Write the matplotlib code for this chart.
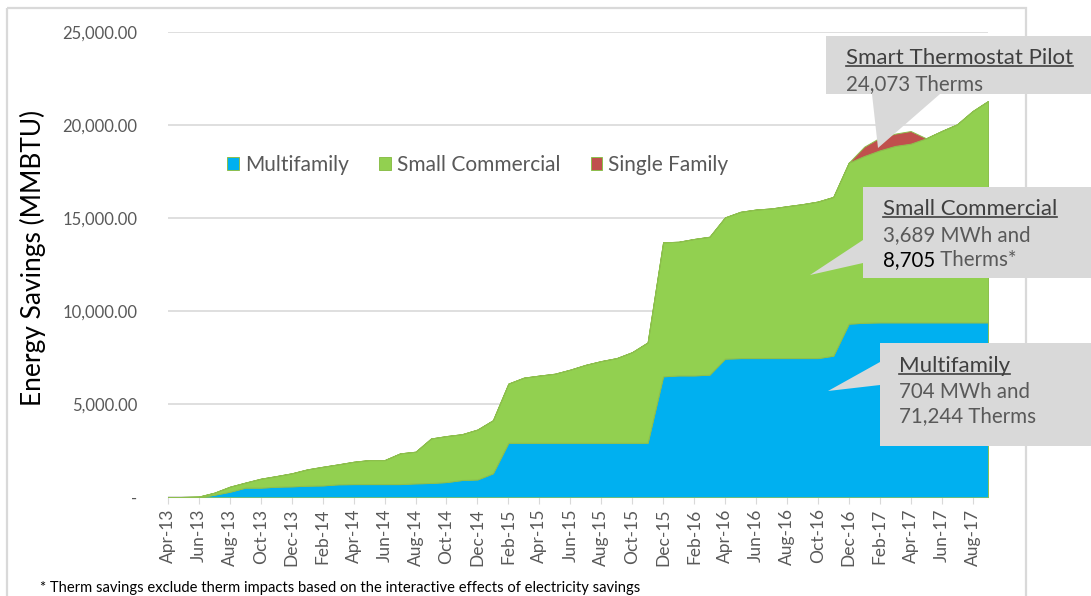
import numpy as np
import pandas as pd
import matplotlib
matplotlib.use("Agg")
import matplotlib.pyplot as plt
from matplotlib.patches import Polygon, Rectangle
from matplotlib.ticker import FuncFormatter

plt.rcParams['font.family'] = ['Lato', 'DejaVu Sans']

# monthly points, Apr-13 .. Sep-17
months = pd.date_range('2013-04-01', periods=54, freq='MS').strftime('%b-%y').tolist()

# cumulative savings, MMBTU
multifamily = [0, 0, 0, 140, 300, 520, 520, 570, 590, 625, 640, 700, 710, 710, 710,
               710, 750, 770, 820, 930, 960, 1290, 2930, 2930, 2930, 2930, 2930, 2930,
               2930, 2930, 2930, 2930, 6500, 6550, 6550, 6590, 7450, 7480, 7480, 7480,
               7480, 7480, 7480, 7610, 9330, 9380, 9400, 9400, 9400, 9400, 9400, 9400,
               9400, 9400]
small_commercial = [0, 20, 40, 110, 270, 270, 480, 570, 700, 875, 1000, 1070, 1200, 1290,
                    1290, 1650, 1700, 2390, 2470, 2460, 2680, 2850, 3180, 3500, 3610, 3710,
                    3930, 4190, 4390, 4550, 4870, 5390, 7200, 7180, 7330, 7410, 7590, 7860,
                    7980, 8040, 8160, 8270, 8410, 8530, 8650, 8960, 9240, 9480, 9600, 9890,
                    10280, 10640, 11350, 11890]
single_family = [0] * 45 + [500, 680, 660, 680] + [0] * 5

series_names = ['Multifamily', 'Small Commercial', 'Single Family']
series_colors = ['#00B0F0', '#92D050', '#C0504D']

W, H = 1091, 596
fig = plt.figure(figsize=(W / 100, H / 100), dpi=100)
ax = fig.add_axes([168 / W, (H - 497.3) / H, 820 / W, 465.3 / H])

x = np.arange(len(months))
polys = ax.stackplot(x, multifamily, small_commercial, single_family,
                     colors=series_colors, edgecolor='#8CBF4C', linewidth=0.7,
                     labels=series_names, zorder=3)
ax.set_xlim(0, len(months) - 1)
ax.set_ylim(0, 25000)

ax.set_yticks(np.arange(0, 25001, 5000))
ax.yaxis.set_major_formatter(FuncFormatter(lambda v, p: '-' if v == 0 else f'{v:,.2f}'))
ax.set_xticks(x[::2])
ax.set_xticklabels(months[::2], rotation=90)
ax.tick_params(axis='y', length=0, pad=22, labelsize=12, labelcolor='#595959')
ax.tick_params(axis='x', length=5, color='#D9D9D9', pad=3, labelsize=12.5, labelcolor='#595959')
ax.grid(axis='y', color='#D9D9D9', linewidth=1.2, zorder=0)
ax.set_axisbelow(True)
for s in ['top', 'right', 'left']:
    ax.spines[s].set_visible(False)
ax.spines['bottom'].set_color('#D9D9D9')

leg = ax.legend(loc='center', bbox_to_anchor=(0.378, 0.714), ncol=3, frameon=False,
                fontsize=15, handlelength=0.55, handleheight=0.55, handletextpad=0.3,
                columnspacing=1.45, labelcolor='#595959')

fig.text(33 / W, 1 - 258 / H, 'Energy Savings (MMBTU)', rotation=90, ha='center',
         va='center', fontsize=19, color='#000000')
fig.text(40 / W, 1 - 588 / H, '* Therm savings exclude therm impacts based on the '
         'interactive effects of electricity savings', ha='left', va='center',
         fontsize=10.6, color='#000000')

# overlay in pixel coordinates for frame and callouts
ov = fig.add_axes([0, 0, 1, 1], zorder=10)
ov.set_xlim(0, W)
ov.set_ylim(H, 0)
ov.axis('off')
ov.patch.set_alpha(0)

ov.add_patch(Rectangle((7, 8), 1019, 600, fill=False, edgecolor='#D9D9D9', linewidth=1.6))

box_c = '#D9D9D9'
callouts = [
    # box (x0, y0, y1), pointer pts
    dict(box=(826, 36, 94), ptr=[(872, 94), (940, 94), (878, 148)]),
    dict(box=(863, 187, 278), ptr=[(863, 240), (863, 263), (810, 275)]),
    dict(box=(880, 343, 446), ptr=[(880, 362), (880, 385), (828, 391)]),
]
for c in callouts:
    x0, y0, y1 = c['box']
    ov.add_patch(Rectangle((x0, y0), W + 20 - x0, y1 - y0, facecolor=box_c, edgecolor='none'))
    ov.add_patch(Polygon(c['ptr'], closed=True, facecolor=box_c, edgecolor='none'))

hs = 16
fs = 14.8
dark = '#404040'
grey = '#595959'
heads = [
    (846, 58, 'Smart Thermostat Pilot'),
    (883, 209, 'Small Commercial'),
    (899, 366, 'Multifamily'),
]
head_texts = []
for hx, hy, t in heads:
    head_texts.append(ov.text(hx, hy, t, fontsize=hs, color=dark, ha='left', va='center'))
ov.text(846, 84, '24,073 Therms', fontsize=fs, color=grey, ha='left', va='center')
ov.text(883, 235, '3,689 MWh and', fontsize=fs, color=grey, ha='left', va='center')
num = ov.text(883, 260, '8,705', fontsize=fs, color='#000000', ha='left', va='center')
ov.text(899, 392, '704 MWh and', fontsize=fs, color=grey, ha='left', va='center')
ov.text(899, 416, '71,244 Therms', fontsize=fs, color=grey, ha='left', va='center')

fig.canvas.draw()
r = fig.canvas.get_renderer()
inv = ov.transData.inverted()
for t in head_texts:
    bb = t.get_window_extent(r)
    (a0, b0), (a1, b1) = inv.transform([(bb.x0, bb.y0), (bb.x1, bb.y1)])
    ov.plot([a0, a1], [b0 - 2, b0 - 2], color=dark, linewidth=1.2)
bb = num.get_window_extent(r)
nx = inv.transform([(bb.x1, bb.y0)])[0][0]
ov.text(nx, 260, ' Therms*', fontsize=fs, color=grey, ha='left', va='center')

fig.savefig('out.png', dpi=100)
